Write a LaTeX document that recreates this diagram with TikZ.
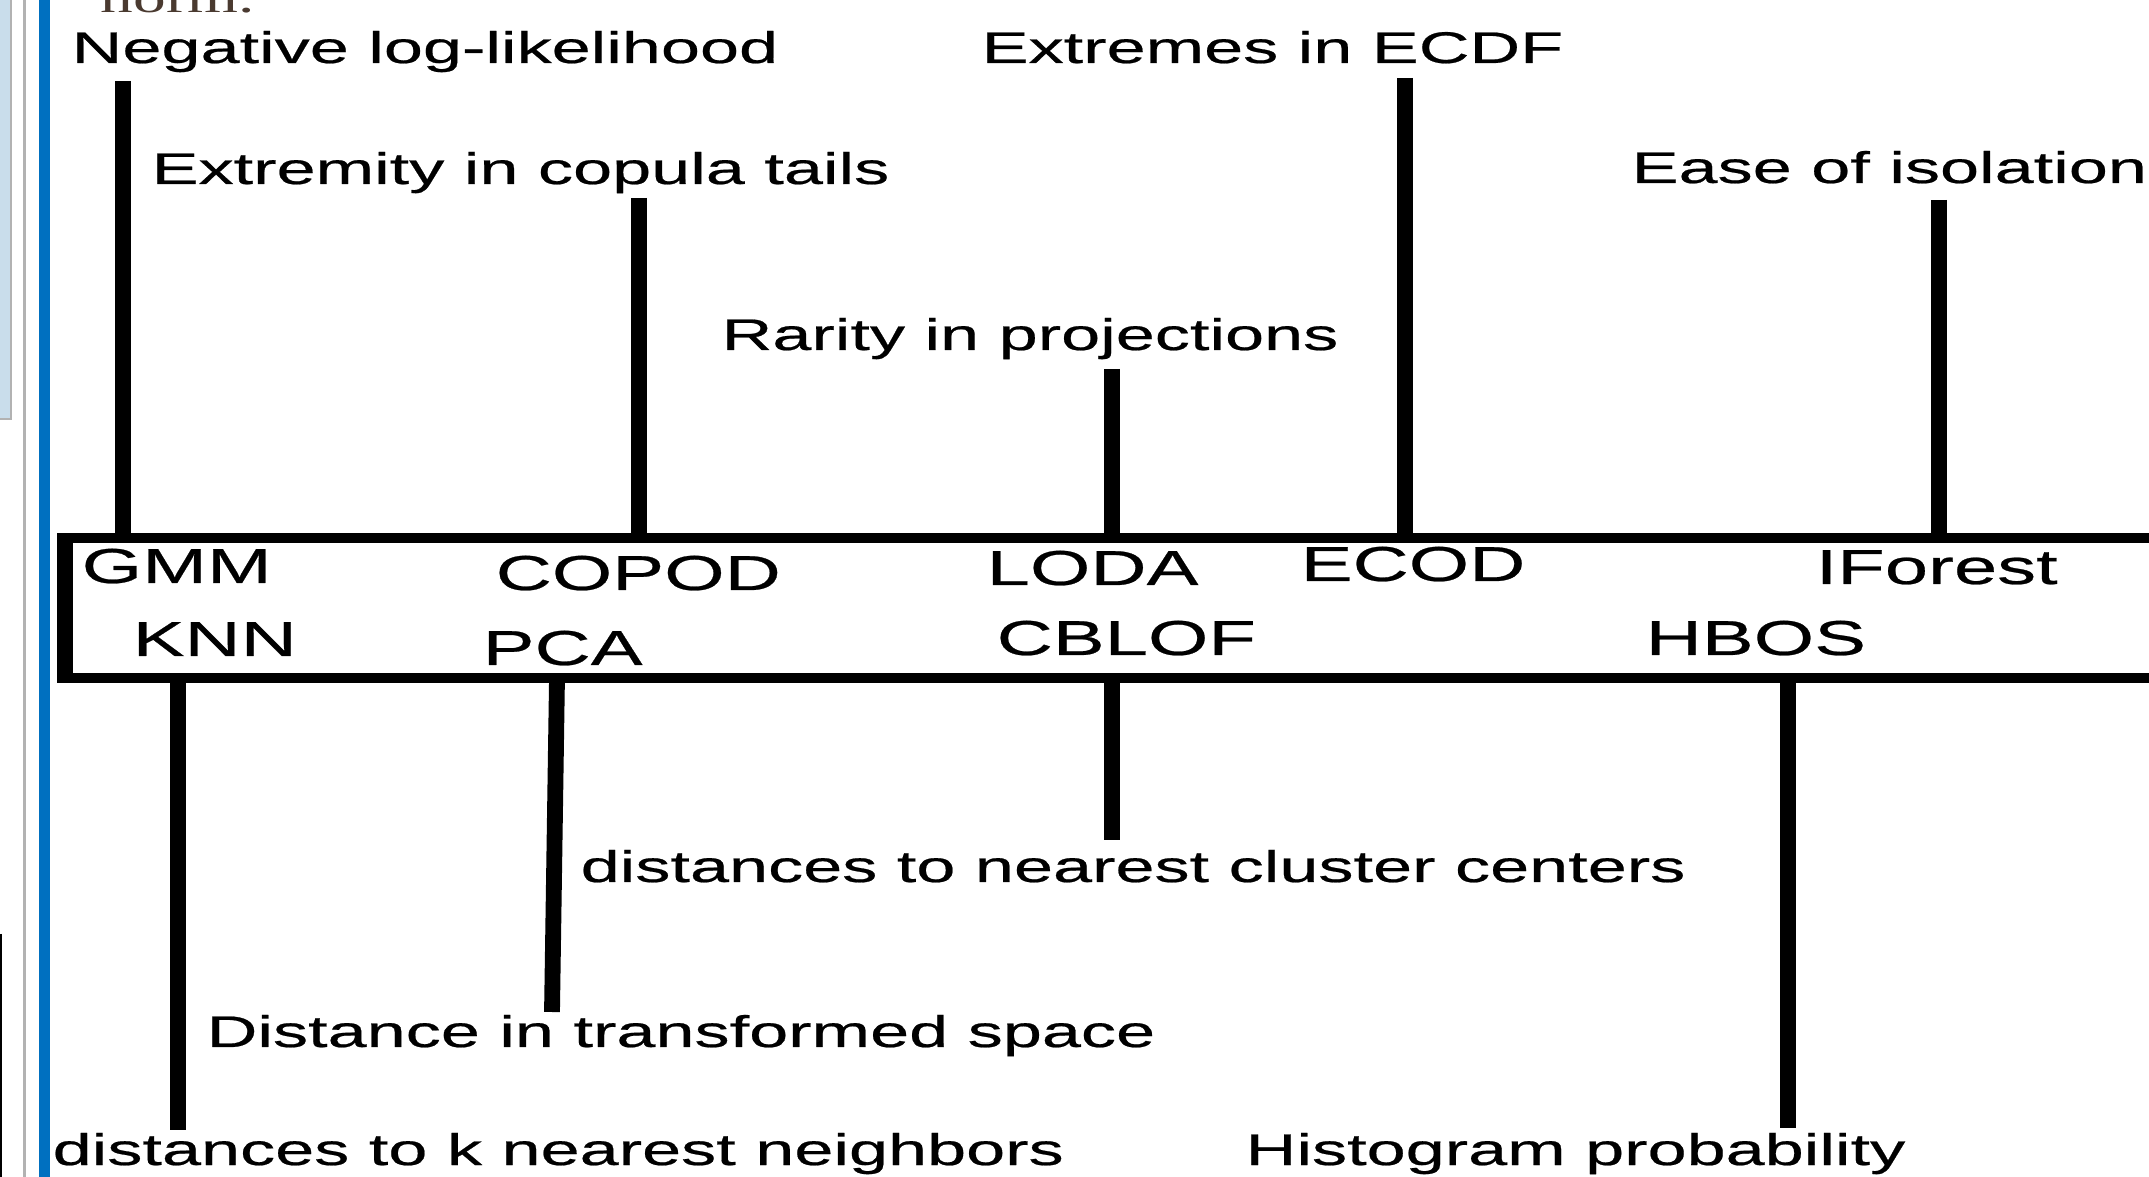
\documentclass[tikz,border=0pt]{standalone}
\usepackage{fontspec}
\setmainfont{Liberation Sans}[FakeStretch=1.585, FakeBold=0.5]
\newfontfamily\normfont{Liberation Serif}[FakeStretch=1.55]
\usepackage{xcolor}
\usepackage{tikz}

\definecolor{barblue}{HTML}{0070C0}
\definecolor{panelblue}{HTML}{C9DDEB}
\definecolor{notebrown}{HTML}{4A3A30}

\tikzset{
    lbl/.style={anchor=base west, inner sep=0pt, font=\fontsize{12.6}{15}\selectfont},
    algo/.style={lbl, font=\fontsize{13.95}{16}\selectfont},
    stem/.style={line width=4.5pt}
}

\begin{document}
\begin{tikzpicture}[x=0.01cm, y=-0.01cm]
        \useasboundingbox (0, 0) rectangle (2149, 1177);

        % window edge
        \fill[panelblue] (0, 0) rectangle (10, 418);
        \draw[gray!60, line width=0.6pt] (11, 0) -- (11, 419) -- (0, 419);
        \draw[gray!60, line width=0.8pt] (24.5, 0) -- (24.5, 1177);
        \fill[barblue] (39, 0) rectangle (50, 1177);
        \draw[line width=0.6pt] (1, 934) -- (1, 1177);
        \node[anchor=base west, inner sep=0pt, text=notebrown, font=\normfont\fontsize{12}{14}\selectfont] (norm) at (100, 13) {norm.};

        % box
        \node[draw, line width=2.7pt, outer sep=0pt, anchor=north west, minimum width=21.5cm, minimum height=1.4cm] (box) at (65, 538) {};
        \draw[stem, shorten <=-1.35pt, shorten >=-1.35pt] (box.north west) -- (box.south west);

        % above
        \node[lbl] (nll) at (71, 63) {Negative log-likelihood};
        \node[lbl] (copula) at (151, 184) {Extremity in copula tails};
        \node[lbl] (rarity) at (721, 350) {Rarity in projections};
        \node[lbl] (ecdf) at (981, 63) {Extremes in ECDF};
        \node[lbl] (isol) at (1631, 183) {Ease of isolation};

        % in the box
        \node[algo] (gmm) at (81, 583) {GMM};
        \node[algo] (knn) at (132, 656) {KNN};
        \node[algo] (copod) at (495, 590) {COPOD};
        \node[algo] (pca) at (482, 665) {PCA};
        \node[algo] (loda) at (986, 585) {LODA};
        \node[algo] (cblof) at (996, 655) {CBLOF};
        \node[algo] (ecod) at (1300, 581) {ECOD};
        \node[algo] (iforest) at (1815, 584) {IForest};
        \node[algo] (hbos) at (1645, 655) {HBOS};

        % below
        \node[lbl] (clust) at (580, 882) {distances to nearest cluster centers};
        \node[lbl] (transf) at (206, 1047) {Distance in transformed space};
        \node[lbl] (knnd) at (52, 1165) {distances to k nearest neighbors};
        \node[lbl] (hist) at (1245, 1165) {Histogram probability};

        % stems up
        \coordinate (tGMM) at (123, 81);
        \coordinate (tCOPOD) at (639, 198);
        \coordinate (tLODA) at (1112, 369);
        \coordinate (tECOD) at (1405, 78);
        \coordinate (tIF) at (1939, 200);

        \draw[stem] (tGMM) -- (tGMM |- box.north);
        \draw[stem] (tCOPOD) -- (tCOPOD |- box.north);
        \draw[stem] (tLODA) -- (tLODA |- box.north);
        \draw[stem] (tECOD) -- (tECOD |- box.north);
        \draw[stem] (tIF) -- (tIF |- box.north);

        % stems down
        \coordinate (bKNN) at (178, 1130);
        \coordinate (aPCA) at (557, 678);
        \coordinate (bPCA) at (552, 1012);
        \coordinate (bCBLOF) at (1112, 840);
        \coordinate (bHBOS) at (1788, 1128);

        \draw[stem] (bKNN |- box.south) -- (bKNN);
        \draw[stem] (aPCA) -- (bPCA);
        \draw[stem] (bCBLOF |- box.south) -- (bCBLOF);
        \draw[stem] (bHBOS |- box.south) -- (bHBOS);
    \end{tikzpicture}
\end{document}
